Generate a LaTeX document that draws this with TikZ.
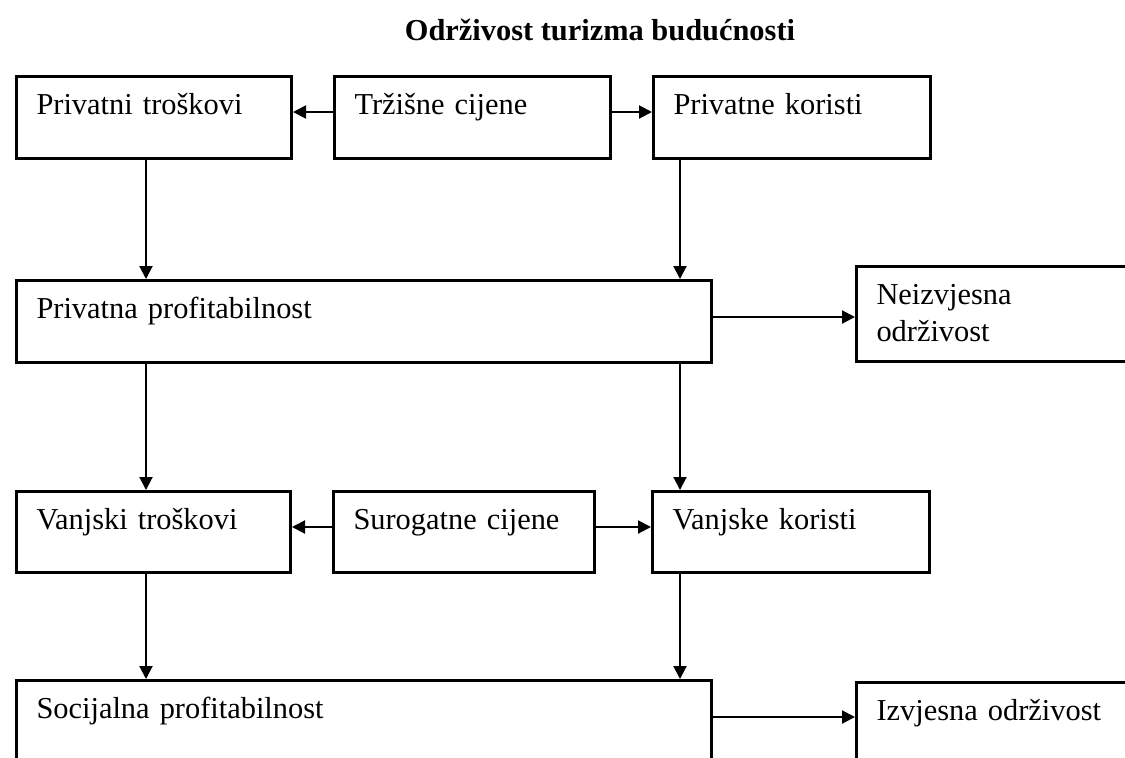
\documentclass[tikz,border=0pt]{standalone}
\usepackage{fontspec}
\setmainfont{Liberation Serif}
\usetikzlibrary{arrows.meta}
\tikzset{
  box/.style={draw,line width=1.5pt,anchor=north west,inner xsep=10pt,inner ysep=0pt,align=left,
    text height=19pt,text depth=22pt,font=\fontsize{15.2}{18.5}\selectfont},
  arr/.style={-{Triangle[length=6.5pt,width=6.5pt]},line width=1pt},
}

\begin{document}
\begin{tikzpicture}[x=0.5pt,y=-0.5pt]
  \useasboundingbox (0,0) rectangle (1125,757);
  \clip (0,0) rectangle (1125,757);
  \node[font=\fontsize{15.2}{18.5}\selectfont\bfseries,anchor=base] (title) at (600,40) {Održivost turizma budućnosti};
  % first row
  \node[box,text width=117.5pt] (ptros) at (15,75) {Privatni troškovi};
  \node[box,text width=118pt] (tcij) at (333,75) {Tržišne cijene};
  \node[box,text width=118.5pt] (pkor) at (652,75) {Privatne koristi};
  \node[box,text width=327.5pt] (pprof) at (15,279) {Privatna profitabilnost};
  \node[box,text width=122.5pt,text depth=28.5pt] (neizv) at (855,265) {Neizvjesna\\održivost};
  % second row
  \node[box,text width=117pt,text depth=21.5pt] (vtros) at (15,490) {Vanjski troškovi};
  \node[box,text width=110.5pt,text depth=21.5pt] (scij) at (332,490) {Surogatne cijene};
  \node[box,text width=118.5pt,text depth=21.5pt] (vkor) at (651,490) {Vanjske koristi};
  \node[box,text width=327.5pt,text depth=40pt] (sprof) at (15,679) {Socijalna profitabilnost};
  \node[box,text width=122.5pt,text depth=40pt] (izv) at (855,681) {Izvjesna održivost};
  % connectors
  \draw[arr] (tcij.west |- 0,112) -- (ptros.east |- 0,112);
  \draw[arr] (tcij.east |- 0,112) -- (pkor.west |- 0,112);
  \draw[arr] (ptros.south -| 146,0) -- (pprof.north -| 146,0);
  \draw[arr] (pkor.south -| 680,0) -- (pprof.north -| 680,0);
  \draw[arr] (pprof.east |- 0,317) -- (neizv.west |- 0,317);
  \draw[arr] (pprof.south -| 146,0) -- (vtros.north -| 146,0);
  \draw[arr] (pprof.south -| 680,0) -- (vkor.north -| 680,0);
  \draw[arr] (scij.west |- 0,527) -- (vtros.east |- 0,527);
  \draw[arr] (scij.east |- 0,527) -- (vkor.west |- 0,527);
  \draw[arr] (vtros.south -| 146,0) -- (sprof.north -| 146,0);
  \draw[arr] (vkor.south -| 680,0) -- (sprof.north -| 680,0);
  \draw[arr] (sprof.east |- 0,717) -- (izv.west |- 0,717);
\end{tikzpicture}
\end{document}
